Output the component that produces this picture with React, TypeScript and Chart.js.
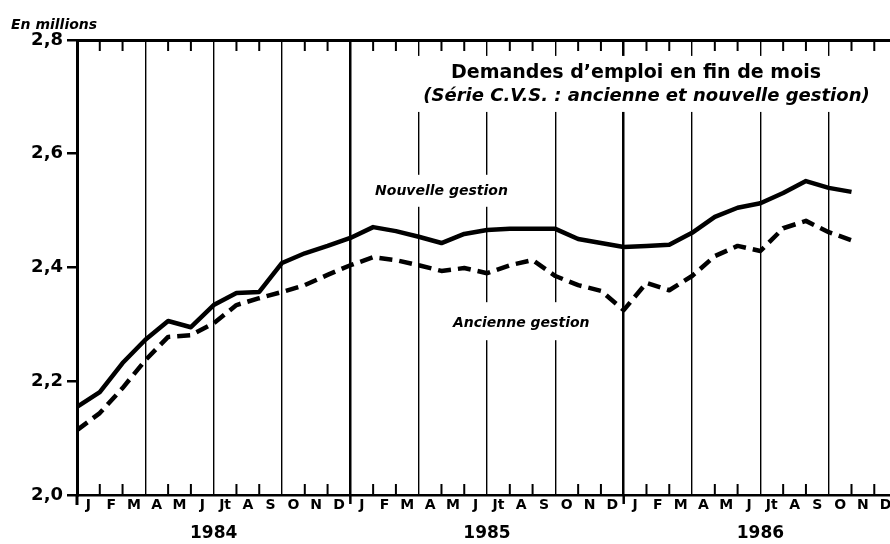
import React, { useEffect, useRef } from "react";
import { Chart, registerables } from "chart.js";

Chart.register(...registerables);

// ---- Data (millions, seasonally adjusted), end-of-month values ----
const MONTH_LABELS = ["J", "F", "M", "A", "M", "J", "Jt", "A", "S", "O", "N", "D"];
const YEAR_LABELS = ["1984", "1985", "1986"];
const YEAR_TICK_POS = [6, 18, 30];
const Y_TICKS = [2.0, 2.2, 2.4, 2.6, 2.8];

const NOUVELLE = [
  2.155, 2.181, 2.232, 2.273, 2.306, 2.295, 2.334, 2.355, 2.357, 2.408,
  2.425, 2.438, 2.452, 2.471, 2.464, 2.454, 2.443, 2.459, 2.466, 2.468,
  2.468, 2.468, 2.450, 2.443, 2.436, 2.438, 2.440, 2.461, 2.489, 2.505,
  2.513, 2.531, 2.552, 2.540, 2.533,
];

const ANCIENNE = [
  2.114, 2.144, 2.188, 2.237, 2.278, 2.281, 2.302, 2.334, 2.346, 2.357,
  2.369, 2.387, 2.404, 2.418, 2.413, 2.404, 2.394, 2.399, 2.390, 2.404,
  2.413, 2.385, 2.369, 2.359, 2.325, 2.373, 2.360, 2.385, 2.420, 2.438,
  2.429, 2.469, 2.482, 2.462, 2.448,
];

const X_MAX = 35.69;
const FONT = '"DejaVu Sans", "Liberation Sans", sans-serif';

const decorPlugin = {
  id: "decor",
  beforeDatasetsDraw(chart: any) {
    const { ctx, chartArea, scales } = chart;
    const x = scales.x;
    const y = scales.y;
    ctx.save();
    // short month ticks along top and bottom axes
    ctx.strokeStyle = "#000";
    ctx.lineWidth = 2;
    for (let i = 1; i < 36; i++) {
      if (i % 3 === 0) continue;
      const px = x.getPixelForValue(i);
      ctx.beginPath();
      ctx.moveTo(px, chartArea.top);
      ctx.lineTo(px, chartArea.top + 11);
      ctx.moveTo(px, chartArea.bottom - 11);
      ctx.lineTo(px, chartArea.bottom);
      ctx.stroke();
    }
    // left axis and year boundaries extend a little below the bottom axis
    ctx.lineWidth = 3;
    ctx.beginPath();
    ctx.moveTo(chartArea.left, chartArea.bottom);
    ctx.lineTo(chartArea.left, chartArea.bottom + 10);
    ctx.stroke();
    ctx.lineWidth = 2.5;
    for (const v of [12, 24]) {
      const px = x.getPixelForValue(v);
      ctx.beginPath();
      ctx.moveTo(px, chartArea.bottom);
      ctx.lineTo(px, chartArea.bottom + 9);
      ctx.stroke();
    }

    // white backgrounds behind annotations
    ctx.fillStyle = "#fff";
    const tx0 = x.getPixelForValue(14.8);
    ctx.fillRect(tx0, y.getPixelForValue(2.772), chartArea.right - tx0, 56);
    ctx.fillRect(x.getPixelForValue(12.4), y.getPixelForValue(2.563), 190, 32);
    ctx.fillRect(x.getPixelForValue(16.1), y.getPixelForValue(2.339), 158, 38);

    ctx.fillStyle = "#000";
    ctx.textBaseline = "middle";
    ctx.textAlign = "center";
    ctx.font = `bold 19px ${FONT}`;
    ctx.fillText("Demandes d\u2019emploi en fin de mois", x.getPixelForValue(24.54), y.getPixelForValue(2.741));
    ctx.font = `italic bold 18px ${FONT}`;
    ctx.fillText("(S\u00e9rie C.V.S. : ancienne et nouvelle gestion)", x.getPixelForValue(25.0), y.getPixelForValue(2.701));
    ctx.font = `italic bold 14px ${FONT}`;
    ctx.fillText("Nouvelle gestion", x.getPixelForValue(16.0), y.getPixelForValue(2.5345));
    ctx.fillText("Ancienne gestion", x.getPixelForValue(19.5), y.getPixelForValue(2.302));

    // unit label
    ctx.textAlign = "left";
    ctx.textBaseline = "alphabetic";
    ctx.font = `italic bold 14px ${FONT}`;
    ctx.fillText("En millions", 11, 29);
    ctx.restore();
  },
};

export default function App() {
  const ref = useRef<HTMLCanvasElement | null>(null);

  useEffect(() => {
    document.body.style.margin = "0";
    const canvas = ref.current;
    if (!canvas) return;
    const monthTicks = Array.from({ length: 36 }, (_, i) => i);
    const chart = new Chart(canvas, {
      type: "line",
      data: {
        datasets: [
          {
            label: "Nouvelle gestion",
            data: NOUVELLE.map((v, i) => ({ x: i, y: v })),
            borderColor: "#000",
            borderWidth: 4.5,
            pointRadius: 0,
            tension: 0,
            fill: false,
            borderJoinStyle: "round",
          },
          {
            label: "Ancienne gestion",
            data: ANCIENNE.map((v, i) => ({ x: i, y: v })),
            borderColor: "#000",
            borderWidth: 4.5,
            borderDash: [13, 7],
            pointRadius: 0,
            tension: 0,
            fill: false,
            borderJoinStyle: "round",
          },
        ],
      },
      options: {
        animation: false,
        responsive: false,
        devicePixelRatio: 1,
        layout: { padding: { top: 40, left: 0, right: 0, bottom: 0 } },
        plugins: { legend: { display: false }, tooltip: { enabled: false }, title: { display: false } },
        scales: {
          x: {
            type: "linear",
            position: "bottom",
            weight: 1,
            min: 0,
            max: X_MAX,
            afterBuildTicks: (s: any) => {
              s.ticks = monthTicks.map((v) => ({ value: v }));
            },
            afterFit: (s: any) => {
              s.height = 24;
            },
            ticks: {
              autoSkip: false,
              maxRotation: 0,
              minRotation: 0,
              labelOffset: 11.4,
              padding: 2,
              color: "#000",
              font: { family: FONT, weight: "bold", size: 14 },
              callback: (v: any) => MONTH_LABELS[((Number(v) % 12) + 12) % 12],
            },
            grid: {
              drawOnChartArea: true,
              drawTicks: false,
              color: (c: any) => (c.tick && c.tick.value % 3 === 0 ? "#000" : "rgba(0,0,0,0)"),
              lineWidth: (c: any) => (c.tick && c.tick.value % 12 === 0 ? 2.5 : 1.4),
            },
            border: { display: true, color: "#000", width: 2.5 },
          },
          x2: {
            type: "linear",
            position: "bottom",
            weight: 2,
            min: 0,
            max: X_MAX,
            afterBuildTicks: (s: any) => {
              s.ticks = YEAR_TICK_POS.map((v) => ({ value: v }));
            },
            afterFit: (s: any) => {
              s.height = 25;
            },
            ticks: {
              autoSkip: false,
              maxRotation: 0,
              minRotation: 0,
              padding: -4,
              color: "#000",
              font: { family: FONT, weight: "bold", size: 17 },
              callback: (_v: any, i: number) => YEAR_LABELS[i],
            },
            grid: { display: false },
            border: { display: false },
          },
          xTop: {
            type: "linear",
            position: "top",
            min: 0,
            max: X_MAX,
            afterFit: (s: any) => {
              s.height = 0;
            },
            ticks: { display: false },
            grid: { drawOnChartArea: false, drawTicks: false },
            border: { display: true, color: "#000", width: 3 },
          },
          y: {
            type: "linear",
            min: 2.0,
            max: 2.8,
            afterBuildTicks: (s: any) => {
              s.ticks = Y_TICKS.map((v) => ({ value: v }));
            },
            afterFit: (s: any) => {
              s.width = 77;
            },
            ticks: {
              padding: 4,
              color: "#000",
              font: { family: FONT, weight: "bold", size: 18 },
              callback: (v: any) => Number(v).toFixed(1).replace(".", ","),
            },
            grid: { drawOnChartArea: false, drawTicks: true, tickLength: 10, color: "#000", lineWidth: 2.5 },
            border: { display: true, color: "#000", width: 3 },
          },
        },
      },
      plugins: [decorPlugin],
    } as any);
    return () => chart.destroy();
  }, []);

  return (
    <div style={{ width: 890, height: 544, overflow: "hidden", background: "#fff" }}>
      <canvas ref={ref} width={890} height={544} style={{ display: "block" }} />
    </div>
  );
}
